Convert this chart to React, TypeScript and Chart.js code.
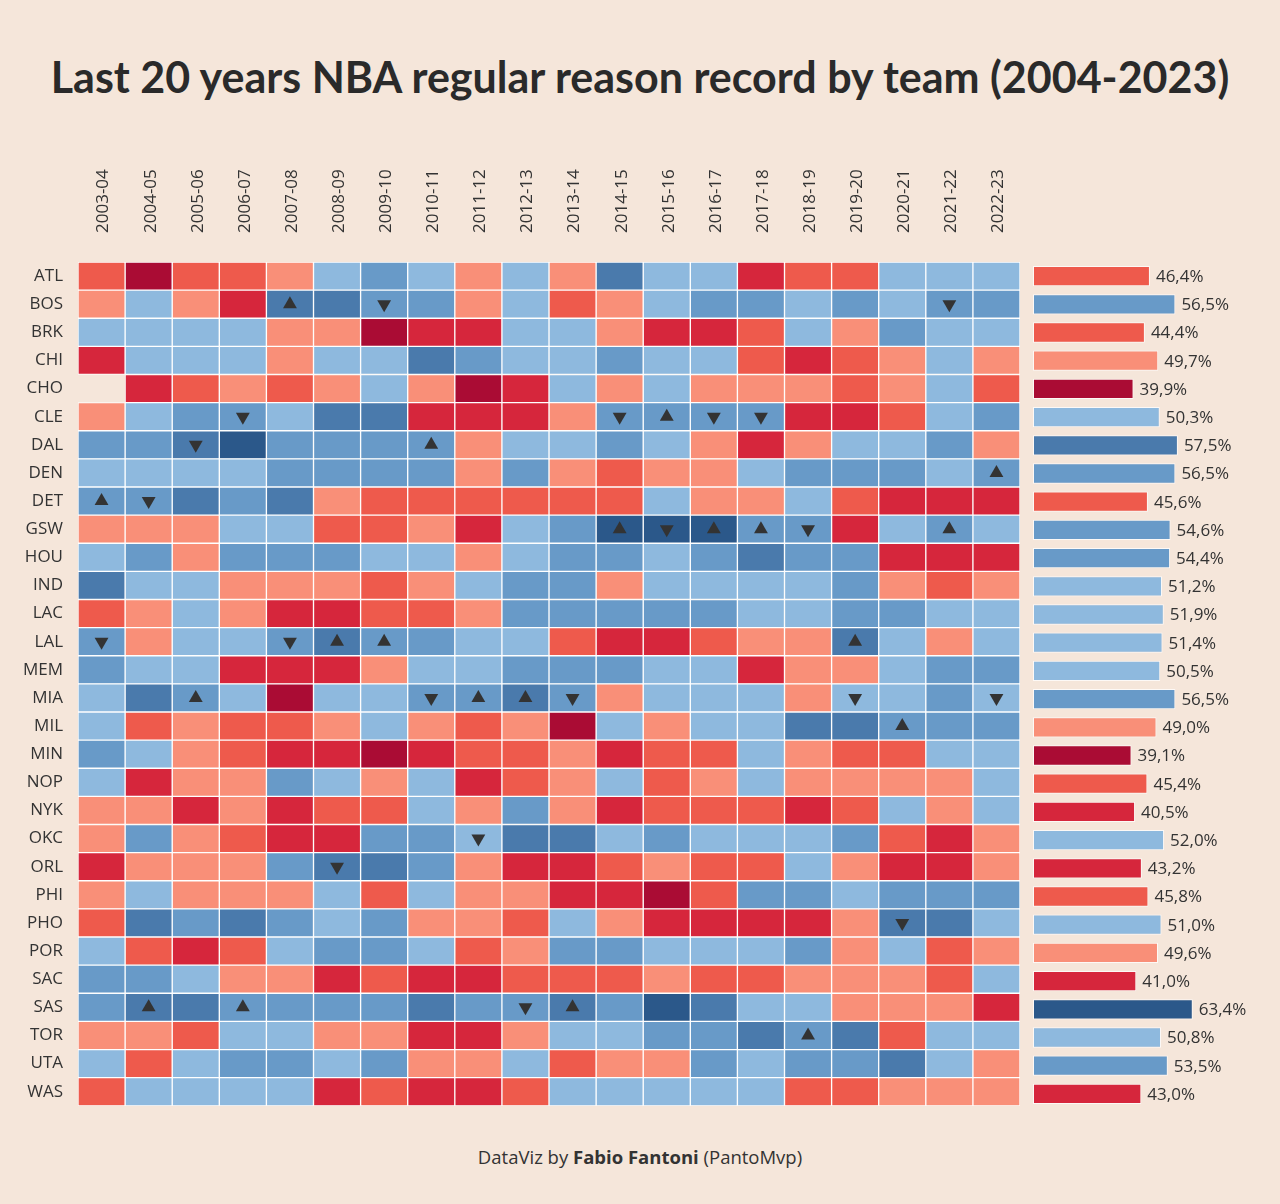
import React, { useEffect, useRef } from 'react';
import { Chart, registerables } from 'chart.js';
Chart.register(...registerables);

const BG = '#F5E6DA';
const TEXT = '#333333';

const teams = ['ATL','BOS','BRK','CHI','CHO','CLE','DAL','DEN','DET','GSW','HOU','IND','LAC','LAL','MEM','MIA','MIL','MIN','NOP','NYK','OKC','ORL','PHI','PHO','POR','SAC','SAS','TOR','UTA','WAS'];
const seasons = ['2003-04','2004-05','2005-06','2006-07','2007-08','2008-09','2009-10','2010-11','2011-12','2012-13','2013-14','2014-15','2015-16','2016-17','2017-18','2018-19','2019-20','2020-21','2021-22','2022-23'];

// estimated win % per team (rows) and season (columns)
const winPct: (number | null)[][] = [
  [39,22,39,39,46,55,61,55,46,55,46,68,55,55,31,39,39,55,55,55],
  [46,55,46,31,68,68,61,61,46,55,39,46,55,61,61,55,61,55,61,61],
  [55,55,55,55,46,46,22,31,31,55,55,46,31,31,39,55,46,61,55,55],
  [31,55,55,55,46,55,55,68,61,55,55,61,55,55,39,31,39,46,55,46],
  [null,31,39,46,39,46,55,46,22,31,55,46,55,46,46,46,39,46,55,39],
  [46,55,61,61,55,68,68,31,31,31,46,61,61,61,61,31,31,39,55,61],
  [61,61,68,78,61,61,61,61,46,55,55,61,55,46,31,46,55,55,61,46],
  [55,55,55,55,61,61,61,61,46,61,46,39,46,46,55,61,61,61,55,61],
  [61,61,68,61,68,46,39,39,39,39,39,39,55,46,46,55,39,31,31,31],
  [46,46,46,55,55,39,39,46,31,55,61,78,78,78,61,61,31,55,61,55],
  [55,61,46,61,61,61,55,55,46,55,61,61,55,61,68,61,61,31,31,31],
  [68,55,55,46,46,46,39,46,55,61,61,46,55,55,55,55,61,46,39,46],
  [39,46,55,46,31,31,39,39,46,61,61,61,61,61,55,55,61,61,55,55],
  [61,46,55,55,61,68,61,61,55,55,39,31,31,39,46,46,68,55,46,55],
  [61,55,55,31,31,31,46,55,55,61,61,61,55,55,31,46,46,55,61,61],
  [55,68,61,55,22,55,55,61,61,68,61,46,55,55,55,46,55,55,61,55],
  [55,39,46,39,39,46,55,46,39,46,22,55,46,55,55,68,68,61,61,61],
  [61,55,46,39,31,31,22,31,39,39,46,31,39,39,55,46,39,39,55,55],
  [55,31,46,46,61,55,46,55,31,39,46,55,39,46,55,46,46,46,46,55],
  [46,46,31,46,31,39,39,55,46,61,46,31,39,39,39,31,39,55,46,55],
  [46,61,46,39,31,31,61,61,55,68,68,55,61,55,55,55,61,39,31,46],
  [31,46,46,46,61,68,68,61,46,31,31,39,46,39,39,55,46,31,31,46],
  [46,55,46,46,46,55,39,55,46,46,31,31,22,39,61,61,55,61,61,61],
  [39,68,61,68,61,55,61,46,46,39,55,46,31,31,31,31,46,68,68,55],
  [55,39,31,39,55,61,61,55,39,46,61,61,55,55,55,61,46,55,39,46],
  [61,61,55,46,46,31,39,31,31,39,39,39,46,39,39,46,46,46,39,55],
  [61,68,68,61,61,61,61,68,61,61,68,61,78,68,55,55,46,46,46,31],
  [46,46,39,55,55,46,46,31,31,46,55,55,61,61,68,61,68,39,55,55],
  [55,39,55,61,61,55,61,46,46,55,39,46,46,61,55,61,61,68,55,46],
  [39,55,55,55,55,31,39,31,31,39,55,55,55,55,55,39,39,46,46,46],
];

// 20-year average win %
const avgPct = [46.4,56.5,44.4,49.7,39.9,50.3,57.5,56.5,45.6,54.6,54.4,51.2,51.9,51.4,50.5,56.5,49.0,39.1,45.4,40.5,52.0,43.2,45.8,51.0,49.6,41.0,63.4,50.8,53.5,43.0];

// champions (▲) and finals losers (▼): [team, season]
const champions: [string, string][] = [
  ['DET','2003-04'],['SAS','2004-05'],['MIA','2005-06'],['SAS','2006-07'],['BOS','2007-08'],
  ['LAL','2008-09'],['LAL','2009-10'],['DAL','2010-11'],['MIA','2011-12'],['MIA','2012-13'],
  ['SAS','2013-14'],['GSW','2014-15'],['CLE','2015-16'],['GSW','2016-17'],['GSW','2017-18'],
  ['TOR','2018-19'],['LAL','2019-20'],['MIL','2020-21'],['GSW','2021-22'],['DEN','2022-23'],
];
const finalists: [string, string][] = [
  ['LAL','2003-04'],['DET','2004-05'],['DAL','2005-06'],['CLE','2006-07'],['LAL','2007-08'],
  ['ORL','2008-09'],['BOS','2009-10'],['MIA','2010-11'],['OKC','2011-12'],['SAS','2012-13'],
  ['MIA','2013-14'],['CLE','2014-15'],['GSW','2015-16'],['CLE','2016-17'],['CLE','2017-18'],
  ['GSW','2018-19'],['MIA','2019-20'],['PHO','2020-21'],['BOS','2021-22'],['MIA','2022-23'],
];

const palette = ['#AA0C34','#D6263C','#EE5A4C','#F98F78','#8EB9DE','#689AC8','#4A7AAC','#2B588A'];
const cellThresholds = [26, 35, 42, 50, 59, 65, 73];
const barThresholds = [40, 44, 47, 50, 53, 57, 60];

function binColor(v: number | null, th: number[]): string {
  if (v === null) return 'rgba(0,0,0,0)';
  let i = 0;
  while (i < th.length && v >= th[i]) i++;
  return palette[i];
}

const FONT = "'Open Sans', sans-serif";

export default function App() {
  const heatRef = useRef<HTMLCanvasElement>(null);
  const barRef = useRef<HTMLCanvasElement>(null);

  useEffect(() => {
    document.body.style.margin = '0';
    document.body.style.background = BG;

    const heatDatasets: any[] = seasons.map((s, c) => ({
      type: 'bar',
      label: s,
      data: teams.map(() => [c, c + 1]),
      backgroundColor: teams.map((_, r) => binColor(winPct[r][c], cellThresholds)),
      borderColor: teams.map((_, r) => (winPct[r][c] === null ? 'rgba(0,0,0,0)' : '#FFFFFF')),
      borderWidth: 1,
      borderSkipped: false,
      grouped: false,
      barPercentage: 1,
      categoryPercentage: 1,
      order: 2,
    }));
    const mk = (list: [string, string][], rot: number) => ({
      type: 'scatter',
      data: list.map(([t, s]) => ({ x: seasons.indexOf(s) + 0.5, y: t })),
      pointStyle: 'triangle',
      rotation: rot,
      pointRadius: 8,
      pointHoverRadius: 8,
      backgroundColor: '#333333',
      borderWidth: 0,
      order: 0,
    });

    const heat = new Chart(heatRef.current!, {
      type: 'bar',
      data: { labels: teams, datasets: [...heatDatasets, mk(champions, 0), mk(finalists, 180)] },
      options: {
        indexAxis: 'y',
        animation: false,
        responsive: false,
        events: [],
        layout: { padding: { left: 0, right: 8, top: 0, bottom: 12 } },
        plugins: { legend: { display: false }, tooltip: { enabled: false }, title: { display: false } },
        scales: {
          x: {
            type: 'linear',
            position: 'top',
            min: 0,
            max: 20,
            grid: { display: false, drawTicks: false },
            border: { display: false },
            afterBuildTicks: (scale: any) => {
              scale.ticks = seasons.map((_, i) => ({ value: i }));
            },
            afterFit: (scale: any) => { scale.height = 262; },
            ticks: {
              autoSkip: false,
              minRotation: 90,
              maxRotation: 90,
              padding: 29,
              labelOffset: 46,
              color: TEXT,
              font: { family: FONT, size: 17 },
              callback: (v: any) => seasons[Math.round(Number(v))],
            },
          },
          y: {
            type: 'category',
            grid: { display: false, drawTicks: false },
            border: { display: false },
            afterFit: (scale: any) => { scale.width = 78; },
            ticks: {
              autoSkip: false,
              padding: 15,
              color: TEXT,
              font: { family: FONT, size: 17 },
            },
          },
        },
      } as any,
    });

    const labelPlugin = {
      id: 'barLabels',
      afterDatasetsDraw(chart: any) {
        const ctx = chart.ctx;
        const meta = chart.getDatasetMeta(0);
        ctx.save();
        ctx.fillStyle = TEXT;
        ctx.font = `17px ${FONT}`;
        ctx.textBaseline = 'middle';
        ctx.textAlign = 'left';
        meta.data.forEach((el: any, i: number) => {
          ctx.fillText(avgPct[i].toFixed(1).replace('.', ',') + '%', el.x + 6, el.y + 1);
        });
        ctx.restore();
      },
    };

    const bars = new Chart(barRef.current!, {
      type: 'bar',
      data: {
        labels: teams,
        datasets: [{
          data: avgPct,
          backgroundColor: avgPct.map((v) => binColor(v, barThresholds)),
          borderColor: 'rgba(255,255,255,0.75)',
          borderWidth: 1,
          borderSkipped: false,
          barPercentage: 0.72,
          categoryPercentage: 1,
        }],
      },
      options: {
        indexAxis: 'y',
        animation: false,
        responsive: false,
        events: [],
        layout: { padding: { left: 9, right: 45.4, top: 262, bottom: 23 } },
        plugins: { legend: { display: false }, tooltip: { enabled: false } },
        scales: {
          x: { type: 'linear', min: 0, max: 80, display: false },
          y: { type: 'category', display: false },
        },
      } as any,
      plugins: [labelPlugin],
    });

    return () => { heat.destroy(); bars.destroy(); };
  }, []);

  return (
    <div style={{ position: 'relative', width: 1280, height: 1204, background: BG, overflow: 'hidden' }}>
      <div style={{ position: 'absolute', left: 0, top: 49, width: 1280, textAlign: 'center', fontFamily: 'Lato, sans-serif', fontWeight: 700, fontSize: 43, lineHeight: '56px', color: '#2A2A2A' }}>
        Last 20 years NBA regular reason record by team (2004-2023)
      </div>
      <canvas ref={heatRef} width={1028} height={1131} style={{ position: 'absolute', left: 0, top: 0, width: 1028, height: 1131 }} />
      <canvas ref={barRef} width={256} height={1131} style={{ position: 'absolute', left: 1024, top: 0, width: 256, height: 1131 }} />
      <div style={{ position: 'absolute', left: 0, top: 1143, width: 1280, textAlign: 'center', fontFamily: FONT, fontSize: 18.5, lineHeight: '28px', color: TEXT }}>
        DataViz by <b>Fabio Fantoni</b> (PantoMvp)
      </div>
    </div>
  );
}
